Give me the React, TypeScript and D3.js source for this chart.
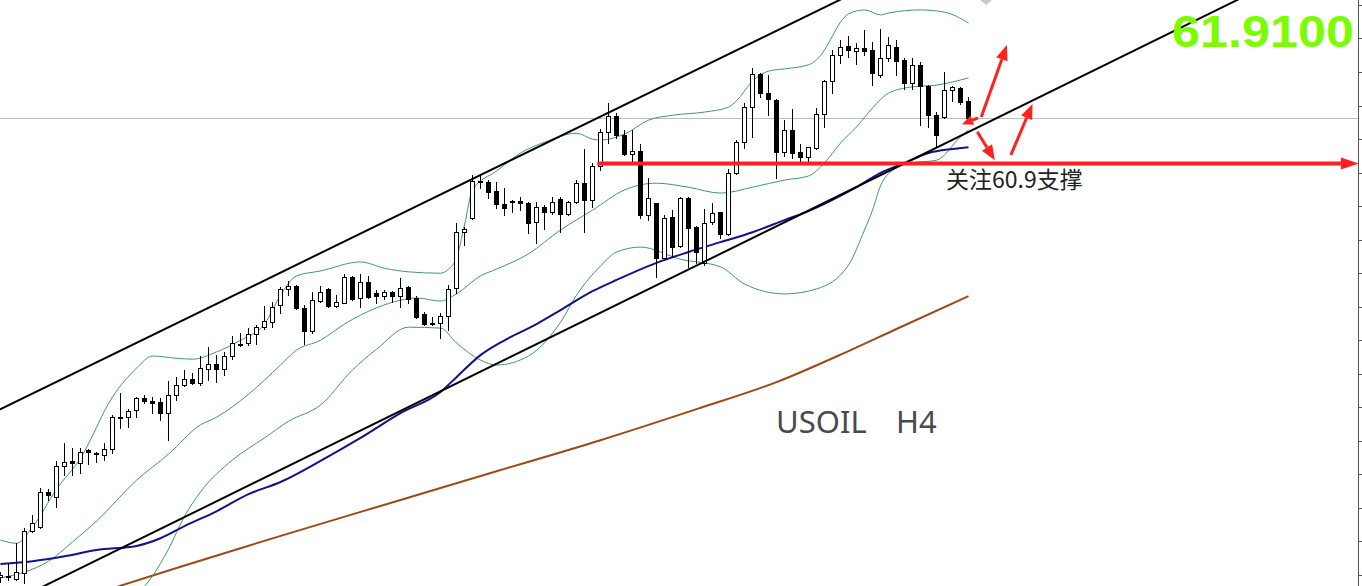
import React from 'react';
import * as d3 from 'd3';

const WIDTH = 1362;
const HEIGHT = 586;

// USOIL H4 candles: [open, high, low, close]
const ohlc: [number, number, number, number][] = [
  [51.71, 51.82, 51.60, 51.75], [51.71, 52.02, 51.64, 51.73], [51.66, 52.46, 51.64, 51.82], [51.80, 52.80, 51.57, 52.73],
  [52.73, 53.09, 52.71, 52.91], [52.82, 53.69, 52.80, 53.60], [53.60, 53.66, 53.42, 53.53], [53.49, 54.29, 53.26, 54.17],
  [54.17, 54.69, 53.97, 54.26], [54.29, 54.57, 53.97, 54.24], [54.24, 54.57, 54.02, 54.49], [54.53, 54.55, 54.22, 54.49],
  [54.46, 54.49, 54.26, 54.44], [54.42, 54.69, 54.31, 54.55], [54.55, 55.31, 54.46, 55.26], [55.24, 55.80, 55.02, 55.26],
  [55.26, 55.44, 55.04, 55.40], [55.42, 55.71, 55.26, 55.69], [55.69, 55.75, 55.57, 55.62], [55.62, 55.71, 55.35, 55.57],
  [55.60, 55.69, 55.20, 55.35], [55.35, 56.06, 54.75, 55.75], [55.75, 56.15, 55.64, 55.97], [55.97, 56.31, 55.95, 56.11],
  [56.11, 56.24, 56.00, 56.02], [56.02, 56.62, 55.97, 56.35], [56.33, 56.82, 56.09, 56.44], [56.44, 56.64, 56.04, 56.33],
  [56.33, 56.71, 56.20, 56.62], [56.62, 57.06, 56.55, 56.91], [56.86, 57.13, 56.84, 56.89], [56.91, 57.24, 56.86, 57.11],
  [57.11, 57.31, 56.89, 57.26], [57.26, 57.73, 57.22, 57.40], [57.37, 57.82, 57.26, 57.71], [57.75, 58.15, 57.57, 58.11],
  [58.11, 58.29, 57.97, 58.17], [58.17, 58.20, 57.67, 57.69], [57.69, 57.75, 56.89, 57.17], [57.17, 58.04, 57.13, 57.86],
  [57.84, 58.17, 57.83, 58.04], [58.11, 58.13, 57.72, 57.73], [57.73, 57.97, 57.70, 57.82], [57.80, 58.44, 57.79, 58.37],
  [58.37, 58.40, 57.86, 57.89], [57.91, 58.44, 57.71, 58.26], [58.26, 58.40, 57.92, 57.93], [58.02, 58.09, 57.80, 57.95],
  [57.95, 58.09, 57.89, 58.04], [58.04, 58.06, 57.82, 57.95], [57.95, 58.35, 57.71, 58.13], [58.15, 58.17, 57.80, 57.89],
  [57.91, 57.95, 57.46, 57.49], [57.55, 57.60, 57.31, 57.33], [57.35, 57.49, 57.31, 57.33], [57.35, 57.57, 57.02, 57.51],
  [57.51, 58.20, 57.20, 58.11], [58.13, 59.57, 58.02, 59.37], [59.37, 59.49, 59.09, 59.44], [59.69, 60.64, 59.66, 60.51],
  [60.49, 60.62, 60.35, 60.51], [60.49, 60.53, 60.13, 60.26], [60.29, 60.49, 59.91, 60.00], [60.00, 60.35, 59.75, 59.91],
  [60.06, 60.09, 59.82, 60.04], [60.06, 60.15, 59.86, 60.02], [60.02, 60.04, 59.35, 59.57], [59.60, 60.04, 59.13, 59.93],
  [59.93, 59.97, 59.44, 59.82], [59.82, 60.15, 59.77, 60.04], [60.11, 60.15, 59.37, 59.77], [59.77, 60.06, 59.75, 60.04],
  [60.04, 60.53, 60.02, 60.46], [60.46, 61.22, 59.37, 60.09], [60.09, 60.91, 59.93, 60.84], [60.84, 61.66, 60.75, 61.60],
  [61.60, 62.24, 61.35, 61.95], [61.95, 62.02, 61.46, 61.53], [61.53, 61.64, 61.09, 61.11], [61.11, 61.64, 60.93, 61.17],
  [61.17, 61.33, 59.69, 59.75], [59.75, 60.57, 59.64, 60.13], [60.02, 60.03, 58.37, 58.80], [58.80, 59.75, 58.75, 59.69],
  [59.71, 59.86, 58.82, 59.04], [59.06, 60.15, 59.04, 60.13], [60.13, 60.15, 58.60, 59.46], [59.49, 59.50, 58.69, 58.93],
  [58.69, 59.89, 58.64, 59.57], [59.60, 60.02, 59.55, 59.80], [59.82, 59.83, 59.24, 59.33], [59.33, 60.77, 59.31, 60.69],
  [60.69, 61.42, 60.66, 61.37], [61.37, 62.24, 61.24, 62.15], [62.15, 63.02, 61.49, 62.89], [62.89, 62.91, 62.37, 62.46],
  [62.46, 62.86, 61.97, 62.33], [62.31, 62.33, 60.57, 61.15], [61.15, 61.86, 61.06, 61.64], [61.64, 62.11, 61.02, 61.13],
  [61.15, 61.33, 60.91, 61.04], [61.04, 61.27, 60.89, 61.26], [61.24, 62.13, 61.22, 62.00], [62.00, 62.75, 61.71, 62.73],
  [62.73, 63.42, 62.46, 63.31], [63.31, 63.64, 63.13, 63.49], [63.51, 63.73, 63.26, 63.42], [63.40, 63.57, 63.11, 63.46],
  [63.46, 63.86, 63.31, 63.40], [63.42, 63.60, 62.64, 62.91], [62.86, 63.89, 62.82, 63.24], [63.24, 63.71, 63.17, 63.53],
  [63.49, 63.64, 62.86, 63.17], [63.20, 63.24, 62.55, 62.69], [62.69, 63.24, 62.55, 63.09], [63.09, 63.15, 61.75, 62.62],
  [62.62, 62.64, 61.71, 61.97], [61.97, 62.04, 61.26, 61.53], [61.93, 62.93, 61.91, 62.53], [62.53, 62.62, 62.29, 62.60],
  [62.57, 62.60, 62.22, 62.26], [62.29, 62.37, 61.91, 61.91],
];

// Bollinger bands and moving averages: [candle index, price]
const bbUpper: [number, number][] = [
  [0, 52.53], [2, 52.46], [4, 52.82], [7, 53.66], [10, 54.35], [14, 55.71], [17, 56.35], [19, 56.62], [22, 56.57],
  [24, 56.55], [27, 56.71], [30, 56.97], [33, 57.33], [35, 57.97], [37, 58.40], [40, 58.51], [45, 58.71], [48, 58.57],
  [51, 58.49], [55, 58.46], [56, 58.55], [57, 58.80], [58, 59.53], [59, 60.31], [62, 60.73], [65, 61.13], [68, 61.37],
  [72, 61.57], [74, 61.44], [75, 61.42], [78, 61.55], [81, 61.86], [84, 61.97], [88, 62.04], [91, 62.15], [92, 62.29],
  [94, 62.73], [96, 62.95], [98, 63.00], [101, 63.09], [102, 63.20], [103, 63.42], [104, 63.73], [105, 64.04],
  [106, 64.22], [108, 64.31], [110, 64.20], [111, 64.24], [115, 64.31], [118, 64.26], [121, 64.02],
];
const bbMiddle: [number, number][] = [
  [0, 51.69], [3, 51.82], [6, 52.06], [9, 52.49], [12, 52.95], [17, 53.86], [21, 54.44], [25, 55.09], [27, 55.26],
  [31, 55.77], [35, 56.42], [37, 56.75], [40, 56.97], [43, 57.33], [47, 57.69], [50, 57.86], [52, 57.91], [55, 57.84],
  [57, 58.00], [60, 58.40], [62, 58.55], [66, 58.89], [70, 59.42], [74, 59.86], [78, 60.31], [82, 60.46], [86, 60.37],
  [90, 60.24], [94, 60.37], [98, 60.53], [101, 60.62], [103, 60.91], [105, 61.35], [107, 61.71], [109, 62.13],
  [111, 62.46], [114, 62.60], [117, 62.64], [121, 62.80],
];
const bbLower: [number, number][] = [
  [12, 50.77], [16, 51.17], [19, 51.73], [21, 52.33], [23, 53.06], [25, 53.60], [29, 54.31], [33, 54.80], [36, 55.17],
  [40, 55.53], [44, 56.31], [47, 56.77], [51, 57.26], [55, 57.24], [57, 56.91], [60, 56.53], [62, 56.42], [66, 56.62],
  [70, 57.37], [72, 57.97], [75, 58.62], [77, 58.93], [80, 59.04], [85, 58.77], [90, 58.60], [93, 58.22], [98, 58.00],
  [102, 58.11], [106, 58.64], [108, 59.42], [109, 59.86], [110, 60.40], [112, 60.80], [114, 60.91], [117, 60.97],
  [120, 61.49], [121, 61.64],
];
const maBlue: [number, number][] = [
  [0, 52.00], [4, 52.06], [8, 52.17], [12, 52.31], [17, 52.40], [20, 52.57], [23, 52.84], [27, 53.17], [31, 53.55],
  [35, 53.82], [40, 54.29], [45, 54.80], [50, 55.35], [55, 55.82], [57, 56.15], [60, 56.64], [63, 56.97], [67, 57.33],
  [70, 57.64], [74, 58.06], [77, 58.31], [82, 58.69], [86, 58.93], [90, 59.15], [94, 59.37], [98, 59.64], [101, 59.84],
  [104, 60.09], [107, 60.37], [110, 60.69], [113, 60.91], [116, 61.13], [119, 61.22], [121, 61.26],
];
const maBrown: [number, number][] = [
  [14, 51.46], [22, 51.91], [30, 52.35], [37, 52.73], [50, 53.42], [62, 54.06], [75, 54.75], [87, 55.44], [97, 56.04],
  [106, 56.73], [112, 57.22], [121, 57.95],
];

// Hand-drawn trend channel: two anchor points each [index, price]
const upperChannel: [number, number][] = [[0, 55.44], [105, 64.54]];
const lowerChannel: [number, number][] = [[5, 51.47], [150, 64.13]];

const lastPrice = 61.91;
const supportPrice = 60.9;
const supportSpan: [number, number] = [74.6, 169.8];

// annotation arrows: [fromIndex, fromPrice, toIndex, toPrice]
const arrows: [number, number, number, number][] = [
  [122.6, 61.93, 125.8, 63.53],
  [122.2, 61.91, 120.2, 61.77],
  [122.1, 61.60, 124.3, 60.97],
  [126.3, 61.09, 129.0, 62.22],
];

const axisTicks = [64.42, 63.675, 62.93, 62.185, 61.44, 60.695, 59.95, 59.205, 58.46, 57.715, 56.97, 56.225, 55.48, 54.735, 53.99, 53.245, 52.5, 51.755];

const RED = '#ff2020';

function Arrow({ x1, y1, x2, y2, w, headLen, headW, color }: { x1: number; y1: number; x2: number; y2: number; w: number; headLen: number; headW: number; color: string }) {
  const dx = x2 - x1, dy = y2 - y1;
  const len = Math.hypot(dx, dy);
  const ux = dx / len, uy = dy / len;
  const hl = Math.min(headLen, len * 0.8);
  const bx = x2 - ux * hl, by = y2 - uy * hl;
  const px = -uy, py = ux;
  return (
    <g>
      <line x1={x1} y1={y1} x2={bx} y2={by} stroke={color} strokeWidth={w} />
      <polygon points={`${x2},${y2} ${bx + px * headW},${by + py * headW} ${bx - px * headW},${by - py * headW}`} fill={color} />
    </g>
  );
}

export default function App() {
  const x = d3.scaleLinear().domain([0, 121]).range([0.5, 968.5]);
  const y = d3.scaleLinear().domain([64.53, 51.51]).range([0, HEIGHT]);

  const line = d3.line<[number, number]>().x(d => x(d[0])).y(d => y(d[1])).curve(d3.curveMonotoneX);

  const channelPath = (anchors: [number, number][]) => {
    const f = d3.scaleLinear().domain([anchors[0][0], anchors[1][0]]).range([anchors[0][1], anchors[1][1]]);
    const a = -10, b = 190;
    return `M${x(a)},${y(f(a))}L${x(b)},${y(f(b))}`;
  };

  const py = Math.round(y(lastPrice)) + 0.5;
  const sy = y(supportPrice);

  return (
    <div style={{ position: 'absolute', left: 0, top: 0, width: WIDTH, height: HEIGHT, background: '#fff' }}>
      <svg width={WIDTH} height={HEIGHT} style={{ display: 'block' }}>
        <rect width={WIDTH} height={HEIGHT} fill="#fff" />
        {/* current price line */}
        <line x1={0} x2={1358} y1={py} y2={py} stroke="#bdbdbd" strokeWidth={1} />
        {/* right border & ticks */}
        <line x1={1358.5} x2={1358.5} y1={0} y2={HEIGHT} stroke="#555" strokeWidth={1} />
        {axisTicks.map((t, i) => (
          <line key={i} x1={1358} x2={1362} y1={Math.round(y(t)) + 0.5} y2={Math.round(y(t)) + 0.5} stroke="#555" />
        ))}
        {/* indicators */}
        <path d={line(maBrown) || ''} fill="none" stroke="#9a4b1c" strokeWidth={2} />
        <path d={line(bbUpper) || ''} fill="none" stroke="#3c9a6a" strokeWidth={1} />
        <path d={line(bbMiddle) || ''} fill="none" stroke="#3c9a6a" strokeWidth={1} />
        <path d={line(bbLower) || ''} fill="none" stroke="#3c9a6a" strokeWidth={1} />
        <path d={line(maBlue) || ''} fill="none" stroke="#12128a" strokeWidth={2} />
        {/* candles */}
        {ohlc.map(([o, h, l, c], i) => {
          const cx = x(i);
          const up = c >= o;
          const top = Math.round(y(Math.max(o, c))) + 0.5;
          const bot = Math.round(y(Math.min(o, c))) + 0.5;
          return (
            <g key={i}>
              <line x1={cx} x2={cx} y1={Math.round(y(h))} y2={Math.round(y(l)) + 1} stroke="#000" strokeWidth={1} />
              {bot - top >= 1 ? (
                <rect x={cx - 2} y={top} width={4} height={bot - top} fill={up ? '#fff' : '#000'} stroke="#000" strokeWidth={1} />
              ) : (
                <line x1={cx - 2.5} x2={cx + 2.5} y1={top} y2={top} stroke="#000" strokeWidth={1} />
              )}
            </g>
          );
        })}
        {/* channel lines */}
        <path d={channelPath(upperChannel)} stroke="#000" strokeWidth={2} fill="none" />
        <path d={channelPath(lowerChannel)} stroke="#000" strokeWidth={2} fill="none" />
        {/* support line */}
        <Arrow x1={x(supportSpan[0])} y1={sy} x2={x(supportSpan[1])} y2={sy} w={4} headLen={18} headW={6} color={RED} />
        {arrows.map(([a, b, c, d], i) => (
          <Arrow key={i} x1={x(a)} y1={y(b)} x2={x(c)} y2={y(d)} w={3} headLen={i === 1 ? 11 : 15} headW={i === 1 ? 5 : 6} color={RED} />
        ))}
        {/* top marker */}
        <polygon points="980,0 992,0 986,5" fill="#c8c8c8" />
        {/* texts */}
        <text x={946} y={188} fontFamily="'Noto Sans CJK SC', 'Noto Sans', sans-serif" fontSize={23} fill="#222">关注60.9支撑</text>
        <text x={776} y={433} fontFamily="'Noto Sans', 'Open Sans', sans-serif" fontSize={31} fill="#4a4a4a">USOIL</text>
        <text x={896} y={433} fontFamily="'Noto Sans', 'Open Sans', sans-serif" fontSize={31} fill="#4a4a4a">H4</text>
        <text x={1172} y={47} fontFamily="'Liberation Sans', Arial, sans-serif" fontWeight="bold" fontSize={45} fill="#7CFC00" textLength={182} lengthAdjust="spacingAndGlyphs">61.9100</text>
      </svg>
    </div>
  );
}
